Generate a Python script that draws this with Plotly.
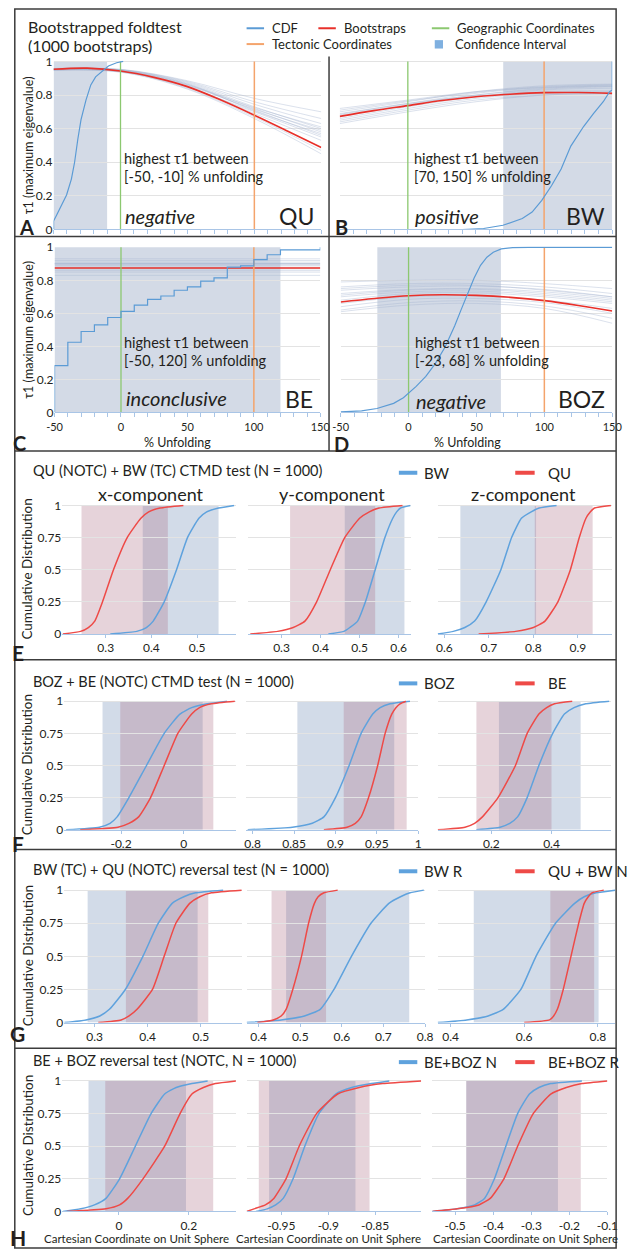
import plotly.graph_objects as go

W, H = 631, 1258

# ---------------------------------------------------------------------------
# Bootstrapped fold test: tau1 (maximum eigenvalue) against % unfolding
# ---------------------------------------------------------------------------
BOOT_KNOTS = [-50, 0, 50, 100, 150]
MEAN_KNOTS = [-50, -25, 0, 25, 50, 75, 100, 125, 150]
GEO_UNFOLD = 0
TECT_UNFOLD = 100

QU_MEAN = [0.953, 0.960, 0.943, 0.905, 0.850, 0.770, 0.680, 0.585, 0.488]
QU_BOOTS = [
    [0.955, 0.950, 0.870, 0.730, 0.600],
    [0.958, 0.948, 0.865, 0.720, 0.580],
    [0.950, 0.945, 0.860, 0.710, 0.560],
    [0.952, 0.940, 0.850, 0.690, 0.530],
    [0.956, 0.952, 0.880, 0.760, 0.660],
    [0.953, 0.950, 0.875, 0.745, 0.630],
    [0.948, 0.938, 0.840, 0.670, 0.470],
    [0.951, 0.942, 0.845, 0.700, 0.550],
    [0.957, 0.953, 0.885, 0.780, 0.700],
    [0.949, 0.940, 0.855, 0.715, 0.590],
    [0.954, 0.946, 0.860, 0.725, 0.610],
    [0.947, 0.936, 0.835, 0.660, 0.450],
    [0.955, 0.947, 0.865, 0.705, 0.570],
]
QU_CDF_X = [-50, -50, -47.6, -44, -40.3, -36.7, -34.3, -31.9, -29.5, -25.8,
            -22.2, -18.6, -13.8, -9, -2.9, 2]
QU_CDF_Y = [0, 0.05, 0.088, 0.146, 0.205, 0.30, 0.40, 0.537, 0.654, 0.77,
            0.86, 0.908, 0.943, 0.973, 0.992, 1.0]
QU_CI = [-50, -10]

BW_MEAN = [0.673, 0.707, 0.737, 0.767, 0.790, 0.805, 0.814, 0.815, 0.810]
BW_BOOTS = [
    [0.640, 0.710, 0.770, 0.800, 0.810],
    [0.650, 0.720, 0.780, 0.810, 0.820],
    [0.660, 0.730, 0.790, 0.830, 0.840],
    [0.670, 0.740, 0.800, 0.835, 0.850],
    [0.680, 0.745, 0.800, 0.840, 0.855],
    [0.690, 0.750, 0.810, 0.845, 0.860],
    [0.700, 0.760, 0.820, 0.855, 0.865],
    [0.710, 0.765, 0.815, 0.850, 0.860],
    [0.720, 0.770, 0.820, 0.845, 0.850],
    [0.630, 0.700, 0.760, 0.800, 0.810],
    [0.685, 0.750, 0.795, 0.820, 0.825],
]
BW_CDF_X = [40, 55.6, 69.8, 84, 91.2, 98.3, 105.4, 112.5, 119.6, 129.1,
            136.2, 143.4, 148.1, 150, 150]
BW_CDF_Y = [0, 0.006, 0.025, 0.065, 0.104, 0.173, 0.26, 0.36, 0.496, 0.614,
            0.69, 0.76, 0.82, 0.83, 1.0]
BW_CI = [70, 150]

BE_MEAN_LEVEL = 0.875
BE_BOOT_LEVELS = [0.93, 0.92, 0.91, 0.90, 0.90, 0.90, 0.899, 0.89, 0.88,
                  0.87, 0.86, 0.85, 0.83]
BE_CDF_X = [-50, -50, -40, -30, -20, -10, 0, 10, 20, 30, 40, 50, 60, 70,
            80, 90, 100, 110, 120, 150]
BE_CDF_Y = [0, 0.283, 0.425, 0.49, 0.53, 0.575, 0.612, 0.65, 0.685, 0.705,
            0.74, 0.76, 0.795, 0.815, 0.88, 0.888, 0.925, 0.955, 0.985, 1.0]
BE_CI = [-50, 120]

BOZ_MEAN = [0.669, 0.690, 0.707, 0.713, 0.709, 0.697, 0.677, 0.648, 0.614]
BOZ_BOOTS = [
    [0.790, 0.800, 0.800, 0.780, 0.750],
    [0.760, 0.780, 0.780, 0.760, 0.720],
    [0.740, 0.760, 0.765, 0.745, 0.700],
    [0.720, 0.745, 0.750, 0.730, 0.690],
    [0.700, 0.730, 0.735, 0.710, 0.670],
    [0.680, 0.720, 0.725, 0.700, 0.660],
    [0.660, 0.700, 0.705, 0.680, 0.630],
    [0.640, 0.685, 0.690, 0.665, 0.600],
    [0.620, 0.665, 0.675, 0.645, 0.570],
    [0.610, 0.650, 0.660, 0.630, 0.540],
    [0.750, 0.770, 0.770, 0.740, 0.700],
    [0.710, 0.740, 0.745, 0.720, 0.680],
]
BOZ_CDF_X = [-50, -34.6, -23.3, -11, -3.8, 0, 5.6, 12.7, 19.8, 26.9, 34,
             38.8, 43.5, 48.2, 53, 57.7, 62.4, 68.3, 76.6, 88.5, 150]
BOZ_CDF_Y = [0.003, 0.01, 0.024, 0.055, 0.089, 0.115, 0.158, 0.218, 0.297,
             0.396, 0.525, 0.624, 0.713, 0.812, 0.891, 0.94, 0.97, 0.99,
             0.998, 1.0, 1.0]
BOZ_CI = [-23, 68]

FOLD_SITES = ["QU", "BW", "BE", "BOZ"]
FOLD_LABELS = ["A", "B", "C", "D"]
FOLD_VERDICTS = ["negative", "positive", "inconclusive", "negative"]
FOLD_RANGES = ["[-50, -10] % unfolding", "[70, 150] % unfolding",
               "[-50, 120] % unfolding", "[-23, 68] % unfolding"]
TAU_TICKS = [0, 0.2, 0.4, 0.6, 0.8, 1]
UNFOLD_TICKS = [-50, 0, 50, 100, 150]

# ---------------------------------------------------------------------------
# CTMD / reversal tests: cumulative distributions of Cartesian coordinates
# ---------------------------------------------------------------------------
CDF_LEVELS = [0, 0.02, 0.05, 0.10, 0.25, 0.50, 0.75, 0.90, 0.95, 0.98, 1.0]
CDF_TICKS = [0, 0.25, 0.5, 0.75, 1]
COMPONENTS = ["x-component", "y-component", "z-component"]

E_TITLE = "QU (NOTC) + BW (TC) CTMD test (N = 1000)"
E_NAMES = ["BW", "QU"]
E_X_BLUE = [0.310, 0.368, 0.389, 0.404, 0.428, 0.455, 0.479, 0.504, 0.521, 0.547, 0.581]
E_X_RED = [0.206, 0.245, 0.262, 0.276, 0.293, 0.317, 0.347, 0.377, 0.394, 0.419, 0.470]
E_Y_BLUE = [0.420, 0.460, 0.475, 0.495, 0.515, 0.540, 0.565, 0.585, 0.595, 0.605, 0.630]
E_Y_RED = [0.220, 0.290, 0.330, 0.360, 0.390, 0.425, 0.462, 0.500, 0.525, 0.550, 0.610]
E_Z_BLUE = [0.585, 0.620, 0.646, 0.668, 0.694, 0.727, 0.751, 0.773, 0.795, 0.813, 0.852]
E_Z_RED = [0.677, 0.760, 0.800, 0.826, 0.855, 0.883, 0.903, 0.918, 0.928, 0.937, 0.974]
E_CI_BLUE = [[0.381, 0.547], [0.462, 0.615], [0.636, 0.806]]
E_CI_RED = [[0.247, 0.436], [0.322, 0.540], [0.803, 0.933]]
E_RANGES = [[0.205, 0.585], [0.213, 0.633], [0.585, 0.977]]
E_TICKS = [[0.3, 0.4, 0.5], [0.3, 0.4, 0.5, 0.6], [0.6, 0.7, 0.8, 0.9]]

F_TITLE = "BOZ + BE (NOTC) CTMD test (N = 1000)"
F_NAMES = ["BOZ", "BE"]
F_X_BLUE = [-0.375, -0.269, -0.235, -0.2125, -0.175, -0.119, -0.0625, -0.0125, 0.025, 0.075, 0.1375]
F_X_RED = [-0.330, -0.210, -0.175, -0.144, -0.106, -0.0625, -0.019, 0.025, 0.050, 0.0875, 0.1625]
F_Y_BLUE = [0.794, 0.848, 0.872, 0.886, 0.900, 0.9165, 0.931, 0.945, 0.954, 0.966, 0.990]
F_Y_RED = [0.886, 0.914, 0.924, 0.931, 0.940, 0.951, 0.960, 0.968, 0.973, 0.978, 0.985]
F_Z_BLUE = [0.150, 0.229, 0.261, 0.287, 0.319, 0.358, 0.404, 0.443, 0.475, 0.514, 0.592]
F_Z_RED = [0.021, 0.112, 0.144, 0.170, 0.222, 0.280, 0.319, 0.358, 0.384, 0.410, 0.469]
F_CI_BLUE = [[-0.259, 0.060], [0.854, 0.971], [0.225, 0.497]]
F_CI_RED = [[-0.2025, 0.094], [0.910, 0.986], [0.150, 0.400]]
F_RANGES = [[-0.381, 0.166], [0.7915, 1.0], [0.021, 0.599]]
F_TICKS = [[-0.2, 0], [0.8, 0.85, 0.9, 0.95, 1], [0.2, 0.4]]

G_TITLE = "BW (TC) + QU (NOTC) reversal test (N = 1000)"
G_NAMES = ["BW R", "QU + BW N"]
G_X_BLUE = [0.243, 0.284, 0.310, 0.328, 0.358, 0.391, 0.420, 0.446, 0.468, 0.490, 0.542]
G_X_RED = [0.307, 0.350, 0.365, 0.380, 0.409, 0.431, 0.453, 0.479, 0.498, 0.520, 0.577]
G_Y_BLUE = [0.371, 0.454, 0.510, 0.548, 0.581, 0.623, 0.670, 0.713, 0.741, 0.764, 0.797]
G_Y_RED = [0.397, 0.435, 0.454, 0.466, 0.482, 0.503, 0.520, 0.534, 0.543, 0.557, 0.590]
G_Z_BLUE = [0.365, 0.444, 0.502, 0.543, 0.591, 0.632, 0.685, 0.737, 0.763, 0.795, 0.847]
G_Z_RED = [0.600, 0.669, 0.680, 0.690, 0.706, 0.727, 0.748, 0.763, 0.774, 0.784, 0.816]
G_CI_BLUE = [[0.287, 0.494], [0.466, 0.762], [0.463, 0.802]]
G_CI_RED = [[0.359, 0.514], [0.431, 0.562], [0.671, 0.790]]
G_RANGES = [[0.243, 0.577], [0.371, 0.800], [0.365, 0.847]]
G_TICKS = [[0.3, 0.4, 0.5], [0.4, 0.5, 0.6, 0.7, 0.8], [0.4, 0.6, 0.8]]

H_TITLE = "BE + BOZ reversal test (NOTC, N = 1000)"
H_NAMES = ["BE+BOZ N", "BE+BOZ R"]
H_X_BLUE = [-0.160, -0.109, -0.070, -0.037, 0.002, 0.047, 0.092, 0.131, 0.164, 0.209, 0.254]
H_X_RED = [-0.149, -0.037, 0.002, 0.025, 0.069, 0.131, 0.175, 0.209, 0.242, 0.276, 0.335]
H_Y_BLUE = [-0.977, -0.965, -0.956, -0.948, -0.9375, -0.925, -0.910, -0.892, -0.875, -0.854, -0.835]
H_Y_RED = [-0.987, -0.979, -0.967, -0.958, -0.945, -0.931, -0.9125, -0.890, -0.867, -0.842, -0.801]
H_Z_BLUE = [-0.560, -0.495, -0.449, -0.423, -0.397, -0.367, -0.336, -0.305, -0.280, -0.249, -0.167]
H_Z_RED = [-0.560, -0.495, -0.438, -0.408, -0.372, -0.336, -0.295, -0.249, -0.208, -0.167, -0.100]
H_CI_BLUE = [[-0.087, 0.192], [-0.963, -0.871], [-0.471, -0.230]]
H_CI_RED = [[-0.039, 0.270], [-0.974, -0.856], [-0.471, -0.170]]
H_RANGES = [[-0.162, 0.335], [-0.987, -0.801], [-0.5615, -0.100]]
H_TICKS = [[0, 0.2], [-0.95, -0.9, -0.85], [-0.5, -0.4, -0.3, -0.2, -0.1]]
H_XTITLE = "Cartesian Coordinate on Unit Sphere"

# ---------------------------------------------------------------------------
# styling and layout (pixel positions on the 631 x 1258 page)
# ---------------------------------------------------------------------------
FONT = "Lato, 'Open Sans', sans-serif"
TXT = "#231f20"
C_CDF = "#5b9bd5"
C_MEAN = "#e8302a"
C_BOOT = "rgba(165,180,208,0.45)"
C_GEO = "#8cc870"
C_TECT = "#f4a46c"
C_CI = "#d3dae6"
C_BLUE = "#5fa2dd"
C_RED = "#ee4a47"
C_BAND_BLUE = "#d2dbe8"
C_BAND_RED = "rgba(172,108,132,0.30)"
C_AXIS = "#a9c5e6"
C_GRID = "#e3e3e3"
C_FRAME = "#3c3c3c"

FOLD_XDOM = [(47, 323), (342, 623), (48, 322), (343, 623)]
FOLD_YDOM = [(54, 225), (54, 225), (242, 410), (242, 410)]

ROW_YDOM = [(503, 634), (701, 832), (892, 1027), (1085, 1218)]
ROW_XDOM = [
    [(56, 235), (247, 416), (443, 623)],
    [(58, 235), (245, 423), (443, 622)],
    [(58, 241), (246, 430), (443, 626)],
    [(56, 235), (246, 426), (437, 618)],
]
ROW_TITLE_Y = [469, 682, 872, 1065]


def fx(p):
    return p / W


def fy(p):
    return 1 - p / H


def refs(n):
    s = "" if n == 1 else str(n)
    return "x" + s, "y" + s, "xaxis" + s, "yaxis" + s


def fmt(v):
    return f"{v:g}"


fig = go.Figure()
shapes = []
annots = []
axes = {}


def text(x, y, s, size, xanchor="left", xref="paper", yref="paper", angle=0,
         bold=False, color=TXT):
    annots.append(dict(
        x=x, y=y, xref=xref, yref=yref, text=(f"<b>{s}</b>" if bold else s),
        showarrow=False, xanchor=xanchor, yanchor="middle", textangle=angle,
        font=dict(family=FONT, size=size, color=color)))


def line(x, y, xa, ya, color, width, shape="linear", smoothing=None):
    ln = dict(color=color, width=width, shape=shape)
    if smoothing is not None:
        ln["smoothing"] = smoothing
    fig.add_trace(go.Scatter(x=x, y=y, xaxis=xa, yaxis=ya, mode="lines",
                             line=ln, hoverinfo="skip", showlegend=False))


# ---------------- fold test panels ----------------
fold_means = [QU_MEAN, BW_MEAN, None, BOZ_MEAN]
fold_boots = [QU_BOOTS, BW_BOOTS, None, BOZ_BOOTS]
fold_cdf = [(QU_CDF_X, QU_CDF_Y), (BW_CDF_X, BW_CDF_Y),
            (BE_CDF_X, BE_CDF_Y), (BOZ_CDF_X, BOZ_CDF_Y)]
fold_ci = [QU_CI, BW_CI, BE_CI, BOZ_CI]
text_x = [1, 3, 1, 3]
verdict_y = [0.078, 0.078, 0.09, 0.072]

for i in range(4):
    n = i + 1
    xa, ya, xk, yk = refs(n)
    lo, hi = fold_ci[i]
    shapes.append(dict(type="rect", xref=xa, yref=ya, x0=lo, x1=hi, y0=0,
                       y1=1, fillcolor=C_CI, line_width=0, layer="below"))
    if fold_boots[i] is not None:
        for b in fold_boots[i]:
            line(BOOT_KNOTS, b, xa, ya, C_BOOT, 0.9, "spline", 1.0)
        line(MEAN_KNOTS, fold_means[i], xa, ya, C_MEAN, 1.6, "spline", 1.0)
    else:
        for lvl in BE_BOOT_LEVELS:
            line([-50, 150], [lvl, lvl], xa, ya, C_BOOT, 0.9)
        line([-50, 150], [BE_MEAN_LEVEL, BE_MEAN_LEVEL], xa, ya, C_MEAN, 1.6)
    line([GEO_UNFOLD, GEO_UNFOLD], [0, 1], xa, ya, C_GEO, 1.3)
    line([TECT_UNFOLD, TECT_UNFOLD], [0, 1], xa, ya, C_TECT, 1.5)
    cx, cy = fold_cdf[i]
    line(cx, cy, xa, ya, C_CDF, 1.2, "hv" if i == 2 else "linear")

    labels_x = i >= 2
    labels_y = i in (0, 2)
    xd, yd = FOLD_XDOM[i], FOLD_YDOM[i]
    xaxis = dict(domain=[fx(xd[0]), fx(xd[1])], anchor=ya, range=[-50, 150],
                 showgrid=False, zeroline=False, showline=True,
                 linecolor=C_AXIS, linewidth=1, ticks="outside", ticklen=4,
                 tickcolor=C_AXIS, tickfont=dict(family=FONT, size=11, color=TXT))
    if labels_x:
        xaxis.update(tickvals=UNFOLD_TICKS,
                     ticktext=[fmt(v) for v in UNFOLD_TICKS],
                     minor=dict(dtick=10, ticks="outside", ticklen=4,
                                tickcolor=C_AXIS, showgrid=False))
    else:
        xaxis.update(dtick=10, tick0=-50, showticklabels=False)
    axes[xk] = xaxis
    axes[yk] = dict(domain=[fy(yd[1]), fy(yd[0])], anchor=xa,
                    range=[0, 1.006], tickvals=TAU_TICKS,
                    ticktext=[fmt(v) for v in TAU_TICKS],
                    showticklabels=labels_y, showgrid=True, gridcolor=C_GRID,
                    gridwidth=1, zeroline=False, showline=False, ticks="",
                    tickfont=dict(family=FONT, size=12, color=TXT))

    text(text_x[i], 0.425, "highest τ1 between", 14.5, xref=xa, yref=ya)
    text(text_x[i], 0.315, FOLD_RANGES[i], 14.5, xref=xa, yref=ya)
    text(text_x[i] + 1, verdict_y[i], f"<i>{FOLD_VERDICTS[i]}</i>", 20,
         xref=xa, yref=ya)
    text(146, 0.08, FOLD_SITES[i], 23, xanchor="right", xref=xa, yref=ya)

# fold test axis titles and panel letters
text(fx(22), fy(139.5), "τ1 (maximum eigenvalue)", 12.5, "center", angle=-90)
text(fx(21), fy(326), "τ1 (maximum eigenvalue)", 12.5, "center", angle=-90)
text(fx(175), fy(440), "% Unfolding", 12.5, "center")
text(fx(474), fy(440), "% Unfolding", 12.5, "center")
for lbl, (px_, py_) in zip(FOLD_LABELS, [(19, 222), (344, 222), (12, 441), (344, 442)]):
    text(fx(px_), fy(py_), lbl, 20, "center", bold=True)

# header and legend
text(fx(19), fy(20), "Bootstrapped foldtest", 16)
text(fx(19), fy(39), "(1000 bootstraps)", 16)
legend_items = [
    (246, 21.5, C_CDF, "CDF"),
    (320, 21.5, C_MEAN, "Bootstraps"),
    (437, 21.5, C_GEO, "Geographic Coordinates"),
    (246, 37.5, C_TECT, "Tectonic Coordinates"),
]
for lx, ly, col, lab in legend_items:
    shapes.append(dict(type="line", xref="paper", yref="paper", x0=fx(lx),
                       x1=fx(lx + 18), y0=fy(ly), y1=fy(ly),
                       line=dict(color=col, width=2)))
    text(fx(lx + 24), fy(ly), lab, 13)
shapes.append(dict(type="rect", xref="paper", yref="paper", x0=fx(440),
                   x1=fx(448.5), y0=fy(42), y1=fy(33.5), fillcolor="#7fb0e0",
                   line_width=0))
text(fx(459), fy(37.5), "Confidence Interval", 13)

# ---------------- CTMD / reversal rows ----------------
rows = [
    (E_TITLE, E_NAMES, [(E_X_BLUE, E_X_RED), (E_Y_BLUE, E_Y_RED), (E_Z_BLUE, E_Z_RED)],
     E_CI_BLUE, E_CI_RED, E_RANGES, E_TICKS),
    (F_TITLE, F_NAMES, [(F_X_BLUE, F_X_RED), (F_Y_BLUE, F_Y_RED), (F_Z_BLUE, F_Z_RED)],
     F_CI_BLUE, F_CI_RED, F_RANGES, F_TICKS),
    (G_TITLE, G_NAMES, [(G_X_BLUE, G_X_RED), (G_Y_BLUE, G_Y_RED), (G_Z_BLUE, G_Z_RED)],
     G_CI_BLUE, G_CI_RED, G_RANGES, G_TICKS),
    (H_TITLE, H_NAMES, [(H_X_BLUE, H_X_RED), (H_Y_BLUE, H_Y_RED), (H_Z_BLUE, H_Z_RED)],
     H_CI_BLUE, H_CI_RED, H_RANGES, H_TICKS),
]
row_letters = ["E", "F", "G", "H"]
row_letter_y = [653, 846, 1038, 1244]

n = 4
for r, (title, names, curves, ci_b, ci_r, rngs, ticks) in enumerate(rows):
    y0p, y1p = ROW_YDOM[r]
    for c in range(3):
        n += 1
        xa, ya, xk, yk = refs(n)
        shapes.append(dict(type="rect", xref=xa, yref=ya, x0=ci_b[c][0],
                           x1=ci_b[c][1], y0=0, y1=1, fillcolor=C_BAND_BLUE,
                           line_width=0, layer="below"))
        shapes.append(dict(type="rect", xref=xa, yref=ya, x0=ci_r[c][0],
                           x1=ci_r[c][1], y0=0, y1=1, fillcolor=C_BAND_RED,
                           line_width=0, layer="below"))
        blue, red = curves[c]
        line(blue, CDF_LEVELS, xa, ya, C_BLUE, 1.5, "spline", 0.5)
        line(red, CDF_LEVELS, xa, ya, C_RED, 1.5, "spline", 0.5)
        xd = ROW_XDOM[r][c]
        axes[xk] = dict(domain=[fx(xd[0]), fx(xd[1])], anchor=ya,
                        range=rngs[c], tickvals=ticks[c],
                        ticktext=[fmt(v) for v in ticks[c]], showgrid=False,
                        zeroline=False, showline=True, linecolor=C_AXIS,
                        linewidth=1, ticks="outside", ticklen=3,
                        tickcolor=C_AXIS,
                        tickfont=dict(family=FONT, size=12, color=TXT))
        axes[yk] = dict(domain=[fy(y1p), fy(y0p)], anchor=xa,
                        range=[0, 1.008], tickvals=CDF_TICKS,
                        ticktext=[fmt(v) for v in CDF_TICKS],
                        showticklabels=(c == 0), showgrid=True,
                        gridcolor=C_GRID, gridwidth=1, zeroline=False,
                        showline=False, ticks="",
                        tickfont=dict(family=FONT, size=12, color=TXT))
    ty = ROW_TITLE_Y[r]
    text(fx(24), fy(ty), title, 14.5)
    shapes.append(dict(type="line", xref="paper", yref="paper", x0=fx(403),
                       x1=fx(422), y0=fy(ty + 2), y1=fy(ty + 2),
                       line=dict(color=C_BLUE, width=4)))
    text(fx(427), fy(ty + 2), names[0], 15)
    shapes.append(dict(type="line", xref="paper", yref="paper", x0=fx(523),
                       x1=fx(543), y0=fy(ty + 2), y1=fy(ty + 2),
                       line=dict(color=C_RED, width=4)))
    text(fx(555), fy(ty + 2), names[1], 15)
    text(fx(20), fy((y0p + y1p) / 2), "Cumulative Distribution", 13.5,
         "center", angle=-90)
    text(fx(10), fy(row_letter_y[r]), row_letters[r], 21, "center", bold=True)

for cx_, comp in zip([147, 334, 531], COMPONENTS):
    text(fx(cx_), fy(492), comp, 18, "center")
for cx_ in [132, 330, 534]:
    text(fx(cx_), fy(1245), H_XTITLE, 11.5, "center")

# frame and panel separators
frame = dict(color=C_FRAME, width=1.5)
shapes.append(dict(type="rect", xref="paper", yref="paper", x0=fx(7),
                   x1=fx(627), y0=fy(1255), y1=fy(2), line=frame))
shapes.append(dict(type="line", xref="paper", yref="paper", x0=fx(331),
                   x1=fx(331), y0=fy(50), y1=fy(449), line=frame))
for sy in [232, 449, 660, 852, 1053]:
    shapes.append(dict(type="line", xref="paper", yref="paper", x0=fx(7),
                       x1=fx(627), y0=fy(sy), y1=fy(sy), line=frame))

fig.update_layout(
    width=W, height=H, margin=dict(l=0, r=0, t=0, b=0),
    paper_bgcolor="white", plot_bgcolor="rgba(0,0,0,0)",
    showlegend=False, shapes=shapes, annotations=annots,
    font=dict(family=FONT, color=TXT), **axes)

fig.write_html("out.html")
